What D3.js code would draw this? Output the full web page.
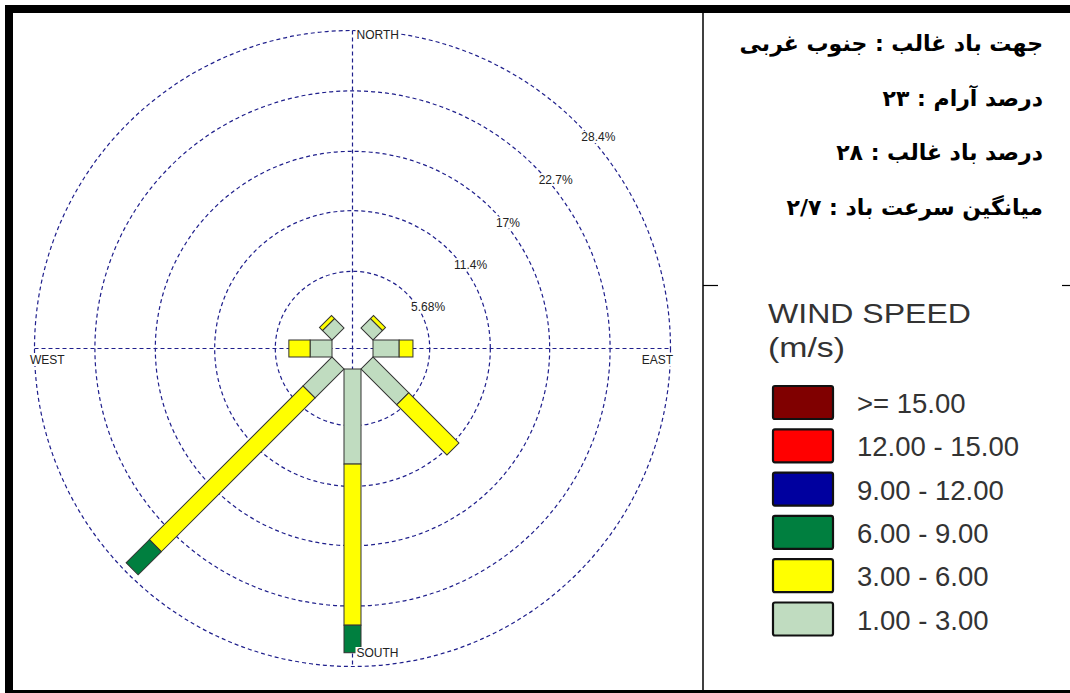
<!DOCTYPE html>
<html>
<head>
<meta charset="utf-8">
<script src="https://cdn.jsdelivr.net/npm/d3@7"></script>
<style>
  body { margin: 0; background: #fff; }
  svg { display: block; }
</style>
</head>
<body>
<svg width="1070" height="693"></svg>
<script>
// wind rose data (percent of time)
var directions = ["N", "NE", "E", "SE", "S", "SW", "W", "NW"];
var speedBins = ["s1", "s3", "s6", "s9", "s12", "s15"];
var binLabels = ["1.00 - 3.00", "3.00 - 6.00", "6.00 - 9.00", "9.00 - 12.00", "12.00 - 15.00", ">= 15.00"];
var binColors = ["#c0dcc0", "#ffff00", "#007f3f", "#00009f", "#ff0000", "#800000"];
var s1 = [0, 1.6, 2.8, 5.1, 9.3, 4.2, 2.4, 1.6];
var s3 = [0, 0.4, 1.3, 6.7, 15.2, 20.5, 2.0, 0.4];
var s6 = [0, 0, 0, 0, 2.6, 3.1, 0, 0];
var s9 = [0, 0, 0, 0, 0, 0, 0, 0];
var s12 = [0, 0, 0, 0, 0, 0, 0, 0];
var s15 = [0, 0, 0, 0, 0, 0, 0, 0];
var ringTicks = [5.68, 11.4, 17, 22.7, 28.4];
var ringLabels = ["5.68%", "11.4%", "17%", "22.7%", "28.4%"];
var infoLines = [
    "جهت باد غالب : جنوب غربی",
    "درصد آرام : ۲۳",
    "درصد باد غالب : ۲۸",
    "میانگین سرعت باد : ۲/۷"
];

var svg = d3.select("svg");
var cx = 352.5, cy = 348.5;
var innerR = 20.5, barW = 17;
var r = d3.scaleLinear().domain([0, 28.4]).range([17, 318]);
var gridColor = "#1f1f8c";

// frame
svg.append("rect").attr("x", 5).attr("y", 5).attr("width", 1065).attr("height", 8).attr("fill", "#000");
svg.append("rect").attr("x", 5).attr("y", 5).attr("width", 8).attr("height", 688).attr("fill", "#000");
svg.append("rect").attr("x", 5).attr("y", 690).attr("width", 1065).attr("height", 3).attr("fill", "#000");
svg.append("line").attr("x1", 703).attr("x2", 703).attr("y1", 13).attr("y2", 690)
    .attr("stroke", "#000").attr("stroke-width", 1.5);
svg.append("line").attr("x1", 703).attr("x2", 718).attr("y1", 285.5).attr("y2", 285.5)
    .attr("stroke", "#000").attr("stroke-width", 1.2);
svg.append("line").attr("x1", 1062).attr("x2", 1070).attr("y1", 285.5).attr("y2", 285.5)
    .attr("stroke", "#000").attr("stroke-width", 1.2);

// grid
var grid = svg.append("g").attr("transform", "translate(" + cx + "," + cy + ")");
grid.selectAll(".ring")
    .data(ringTicks)
    .enter().append("circle")
    .attr("class", "ring")
    .attr("r", function(d) { return r(d); })
    .attr("fill", "none")
    .attr("stroke", gridColor)
    .attr("stroke-width", 1.2)
    .attr("stroke-dasharray", "4,3");
var rMax = r(ringTicks[ringTicks.length - 1]);
grid.append("line").attr("x1", 0).attr("x2", 0).attr("y1", -rMax).attr("y2", rMax)
    .attr("stroke", gridColor).attr("stroke-width", 1.2).attr("stroke-dasharray", "4,3");
grid.append("line").attr("x1", -rMax).attr("x2", rMax).attr("y1", 0).attr("y2", 0)
    .attr("stroke", gridColor).attr("stroke-width", 1.2).attr("stroke-dasharray", "4,3");

// bars
var table = directions.map(function(dir, i) {
    return {dir: dir, angle: i * 45, s1: s1[i], s3: s3[i], s6: s6[i], s9: s9[i], s12: s12[i], s15: s15[i]};
});
var stack = d3.stack().keys(speedBins)(table);
var bars = svg.append("g").attr("transform", "translate(" + cx + "," + cy + ")");
stack.forEach(function(layer, k) {
    bars.selectAll(".bar-" + k)
        .data(layer.filter(function(d) { return d[1] - d[0] > 0; }))
        .enter().append("rect")
        .attr("class", "bar-" + k)
        .attr("transform", function(d) { return "rotate(" + d.data.angle + ")"; })
        .attr("x", -barW / 2)
        .attr("width", barW)
        .attr("y", function(d) { return -r(d[1]); })
        .attr("height", function(d) { return r(d[1]) - Math.max(innerR, r(d[0])); })
        .attr("fill", binColors[k])
        .attr("stroke", "#333")
        .attr("stroke-width", 1);
});

// labels with white backing
function backedText(g, x, y, txt, anchor) {
    var t = g.append("text").attr("x", x).attr("y", y)
        .attr("text-anchor", anchor)
        .attr("font-family", "Liberation Sans, Arial, sans-serif")
        .attr("font-size", 12)
        .attr("fill", "#222")
        .text(txt);
    var b = t.node().getBBox();
    g.insert("rect", function() { return t.node(); })
        .attr("x", b.x - 1).attr("y", b.y + 1).attr("width", b.width + 2).attr("height", b.height - 2)
        .attr("fill", "#fff");
    return t;
}
var lab = svg.append("g");
ringTicks.forEach(function(t, i) {
    var p = r(t) * Math.SQRT1_2;
    backedText(lab, cx + p + 4, cy - p + 17.5, ringLabels[i], "start");
});
backedText(lab, cx + 4, cy - rMax + 8, "NORTH", "start");
backedText(lab, cx + 4, cy + 308.5, "SOUTH", "start");
backedText(lab, 30, cy + 15.5, "WEST", "start");
backedText(lab, 673, cy + 15.5, "EAST", "end");

// info text
svg.append("g").selectAll("text")
    .data(infoLines)
    .enter().append("text")
    .attr("x", 1043)
    .attr("y", function(d, i) { return 51 + i * 54.5; })
    .attr("text-anchor", "end")
    .attr("font-family", "DejaVu Sans, sans-serif")
    .attr("font-weight", "bold")
    .attr("font-size", 22)
    .attr("fill", "#000")
    .text(function(d) { return d; });

// legend
var legend = svg.append("g");
legend.append("text").attr("x", 768).attr("y", 323)
    .attr("font-family", "Liberation Sans, Arial, sans-serif").attr("font-size", 27)
    .attr("fill", "#333").attr("textLength", 203).attr("lengthAdjust", "spacingAndGlyphs")
    .text("WIND SPEED");
legend.append("text").attr("x", 768).attr("y", 357)
    .attr("font-family", "Liberation Sans, Arial, sans-serif").attr("font-size", 27)
    .attr("fill", "#333").attr("textLength", 77).attr("lengthAdjust", "spacingAndGlyphs")
    .text("(m/s)");
var order = d3.range(binLabels.length).reverse();
var rows = legend.selectAll(".row")
    .data(order)
    .enter().append("g")
    .attr("class", "row")
    .attr("transform", function(d, i) { return "translate(773," + (386 + i * 43.3) + ")"; });
rows.append("rect")
    .attr("width", 60).attr("height", 33).attr("rx", 2)
    .attr("fill", function(d) { return binColors[d]; })
    .attr("stroke", "#111").attr("stroke-width", 2.2);
rows.append("text")
    .attr("x", 84).attr("y", 27)
    .attr("font-family", "Liberation Sans, Arial, sans-serif").attr("font-size", 27.5)
    .attr("fill", "#333")
    .text(function(d) { return binLabels[d]; });
</script>
</body>
</html>
